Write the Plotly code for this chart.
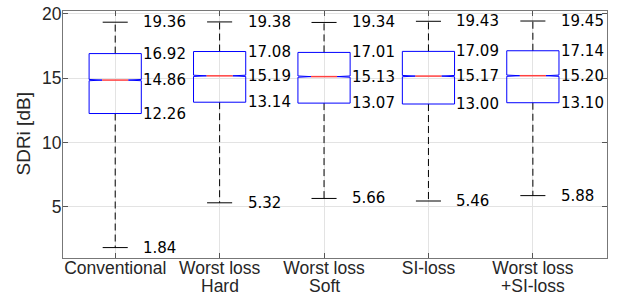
import plotly.graph_objects as go

categories = ["Conventional", "Worst loss<br>Hard", "Worst loss<br>Soft", "SI-loss", "Worst loss<br>+SI-loss"]
whisker_hi = [19.36, 19.38, 19.34, 19.43, 19.45]
q3 = [16.92, 17.08, 17.01, 17.09, 17.14]
median = [14.86, 15.19, 15.13, 15.17, 15.20]
q1 = [12.26, 13.14, 13.07, 13.00, 13.10]
whisker_lo = [1.84, 5.32, 5.66, 5.46, 5.88]
y_ticks = [5, 10, 15, 20]

BOX_HW = 0.25
MED_HW = 0.125
CAP_HW = 0.12
NOTCH = 0.05

fig = go.Figure()
xs = list(range(1, len(categories) + 1))

for i, x in enumerate(xs):
    m = median[i]
    fig.add_trace(go.Scatter(x=[x, x, None, x, x], y=[q3[i], whisker_hi[i], None, q1[i], whisker_lo[i]],
                             mode="lines", line=dict(color="black", width=1, dash="7px,4px"),
                             hoverinfo="skip", showlegend=False))
    fig.add_trace(go.Scatter(x=[x - CAP_HW, x + CAP_HW, None, x - CAP_HW, x + CAP_HW],
                             y=[whisker_hi[i], whisker_hi[i], None, whisker_lo[i], whisker_lo[i]],
                             mode="lines", line=dict(color="black", width=1),
                             hoverinfo="skip", showlegend=False))
    bx = [x - BOX_HW, x - BOX_HW, x - MED_HW, x - BOX_HW, x - BOX_HW,
          x + BOX_HW, x + BOX_HW, x + MED_HW, x + BOX_HW, x + BOX_HW, x - BOX_HW]
    by = [q1[i], m - NOTCH, m, m + NOTCH, q3[i],
          q3[i], m + NOTCH, m, m - NOTCH, q1[i], q1[i]]
    fig.add_trace(go.Scatter(x=bx, y=by, mode="lines", line=dict(color="blue", width=1),
                             hoverinfo="skip", showlegend=False))
    fig.add_trace(go.Scatter(x=[x - MED_HW, x + MED_HW], y=[m, m], mode="lines",
                             line=dict(color="#ff4040", width=1.5),
                             hoverinfo="skip", showlegend=False))
    for v in [whisker_hi[i], q3[i], m, q1[i], whisker_lo[i]]:
        fig.add_annotation(x=x, y=v, xref="x", yref="y", text=f"{v:.2f}", showarrow=False,
                           xanchor="left", yanchor="middle", xshift=26,
                           font=dict(family="DejaVu Sans", size=15, color="black"))

first_lines = [c.split("<br>")[0] for c in categories]
for x, c in zip(xs, categories):
    parts = c.split("<br>")
    if len(parts) > 1:
        fig.add_annotation(x=x, y=0, xref="x", yref="paper", text=parts[1], showarrow=False,
                           xanchor="center", yanchor="top", yshift=-17, borderpad=0,
                           font=dict(family="Liberation Sans", size=17.5, color="#262626"))

fig.add_annotation(x=0, y=0.5, xref="paper", yref="paper", xshift=-40, text="SDRi [dB]",
                   textangle=-90, showarrow=False, xanchor="center", yanchor="middle",
                   font=dict(family="Liberation Sans", size=19, color="#262626"))

axis_common = dict(showline=True, linecolor="#777777", linewidth=1, mirror="ticks",
                   ticks="inside", ticklen=5, tickcolor="#555555", ticklabeloverflow="allow",
                   showgrid=True, gridcolor="#e3e3e3", gridwidth=1, zeroline=False)

fig.update_layout(
    width=622, height=294,
    margin=dict(l=63, r=15, t=4, b=36),
    paper_bgcolor="white", plot_bgcolor="white",
    xaxis=dict(range=[0.5, 5.71], tickvals=xs, ticktext=first_lines, ticklabelstandoff=-6,
               tickfont=dict(family="Liberation Sans", size=17.5, color="#262626"), **axis_common),
    yaxis=dict(range=[1.03, 20.23], tickvals=y_ticks, ticklabelstandoff=-3,
               tickfont=dict(family="Liberation Sans", size=17.5, color="#262626"), **axis_common),
)

fig.write_html("out.html", config={"displayModeBar": False},
               post_script="document.body.style.margin='0';document.body.style.padding='0';")
